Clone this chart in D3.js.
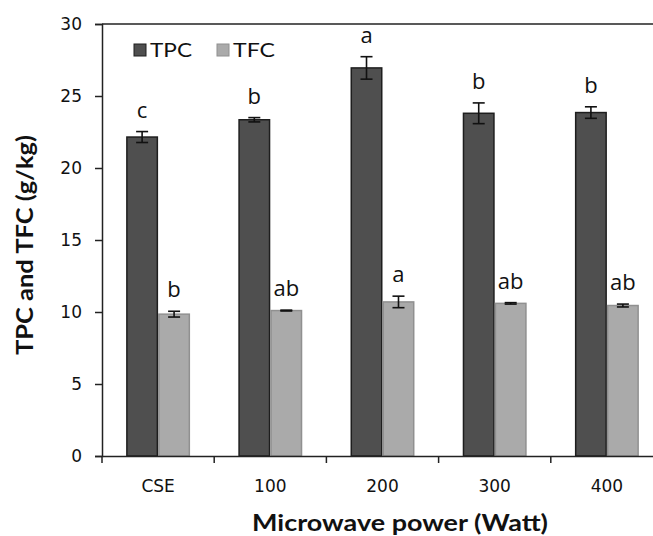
<!DOCTYPE html>
<html>
<head>
<meta charset="utf-8">
<script src="https://cdn.jsdelivr.net/npm/d3@7"></script>
<style>
  html, body { margin: 0; padding: 0; background: #fff; }
  svg { display: block; }
</style>
</head>
<body>
<svg id="chart" width="653" height="536"></svg>
<script>
const categories = ["CSE", "100", "200", "300", "400"];
const seriesNames = ["TPC", "TFC"];
const tpcValues = [22.15, 23.35, 26.95, 23.8, 23.85];
const tpcErrors = [0.38, 0.15, 0.78, 0.72, 0.4];
const tpcLetters = ["c", "b", "a", "b", "b"];
const tfcValues = [9.85, 10.1, 10.7, 10.6, 10.45];
const tfcErrors = [0.2, 0.03, 0.4, 0.05, 0.1];
const tfcLetters = ["b", "ab", "a", "ab", "ab"];
const yTicks = [0, 5, 10, 15, 20, 25, 30];

(function () {
const svg = d3.select("#chart");
const mLeft = 102, mRight = 663, mTop = 24, mBottom = 456;

const x0 = d3.scaleBand().domain(categories).range([mLeft, mRight])
  .paddingInner(0.43).paddingOuter(0.215);
const x1 = d3.scaleBand().domain(seriesNames).range([0, x0.bandwidth()]);
const y = d3.scaleLinear().domain([0, 30]).range([mBottom, mTop]);

const colors = { TPC: "#4f4f4f", TFC: "#aaaaaa" };
const strokes = { TPC: "#1e1e1e", TFC: "#909090" };

const data = [];
categories.forEach((c, i) => {
  data.push({ cat: c, s: "TPC", v: tpcValues[i], e: tpcErrors[i], l: tpcLetters[i] });
  data.push({ cat: c, s: "TFC", v: tfcValues[i], e: tfcErrors[i], l: tfcLetters[i] });
});

// top border
svg.append("line").attr("x1", mLeft).attr("x2", 653).attr("y1", mTop).attr("y2", mTop)
  .attr("stroke", "#222").attr("stroke-width", 1.5);

// bars
svg.append("g").selectAll("rect").data(data).join("rect")
  .attr("x", d => x0(d.cat) + x1(d.s) + 0.75)
  .attr("y", d => y(d.v))
  .attr("width", x1.bandwidth() - 1.5)
  .attr("height", d => y(0) - y(d.v))
  .attr("fill", d => colors[d.s])
  .attr("stroke", d => strokes[d.s])
  .attr("stroke-width", 1.5);

// error bars
const eb = svg.append("g").attr("stroke", "#111").attr("stroke-width", 1.6);
data.forEach(d => {
  const cx = x0(d.cat) + x1(d.s) + x1.bandwidth() / 2;
  eb.append("line").attr("x1", cx).attr("x2", cx).attr("y1", y(d.v + d.e)).attr("y2", y(d.v - d.e));
  eb.append("line").attr("x1", cx - 6).attr("x2", cx + 6).attr("y1", y(d.v + d.e)).attr("y2", y(d.v + d.e));
  eb.append("line").attr("x1", cx - 6).attr("x2", cx + 6).attr("y1", y(d.v - d.e)).attr("y2", y(d.v - d.e));
});

// letters
svg.append("g").selectAll("text").data(data).join("text")
  .attr("x", d => x0(d.cat) + x1(d.s) + x1.bandwidth() / 2)
  .attr("y", d => y(d.v + d.e) - 14)
  .attr("text-anchor", "middle")
  .attr("font-family", "'Open Sans', sans-serif")
  .attr("font-size", 22)
  .attr("font-weight", 500)
  .attr("fill", "#111")
  .text(d => d.l);

// y axis
const yAxis = d3.axisLeft(y).tickValues(yTicks).tickSize(7).tickPadding(13);
const gy = svg.append("g").attr("transform", `translate(${mLeft},0)`).call(yAxis);
gy.select(".domain").attr("stroke", "#222").attr("stroke-width", 1.5);
gy.selectAll(".tick line").attr("stroke", "#222").attr("stroke-width", 1.5);
gy.selectAll(".tick text").attr("font-family", "'DejaVu Sans', sans-serif").attr("font-size", 17).attr("fill", "#111");

// x axis
const xAxis = d3.axisBottom(x0).tickSize(0).tickPadding(24);
const gx = svg.append("g").attr("transform", `translate(0,${mBottom})`).call(xAxis);
gx.select(".domain").attr("stroke", "#222").attr("stroke-width", 1.5);
gx.selectAll(".tick text").attr("font-family", "'DejaVu Sans', sans-serif").attr("font-size", 17).attr("fill", "#111");
const bx = categories.map((c, i) => mLeft + i * x0.step());
gx.selectAll(".btick").data(bx).join("line").attr("class", "btick")
  .attr("x1", d => d).attr("x2", d => d).attr("y1", 0).attr("y2", 7)
  .attr("stroke", "#222").attr("stroke-width", 1.5);

// axis titles
svg.append("text")
  .attr("x", 400).attr("y", 531)
  .attr("text-anchor", "middle")
  .attr("font-family", "Lato, 'Open Sans', sans-serif")
  .attr("font-weight", "bold").attr("font-size", 22).attr("fill", "#111")
  .attr("textLength", 296).attr("lengthAdjust", "spacingAndGlyphs")
  .text("Microwave power (Watt)");

svg.append("text")
  .attr("transform", `translate(33,245) rotate(-90)`)
  .attr("text-anchor", "middle")
  .attr("font-family", "Lato, 'Open Sans', sans-serif")
  .attr("font-weight", "bold").attr("font-size", 22).attr("fill", "#111")
  .attr("textLength", 220).attr("lengthAdjust", "spacingAndGlyphs")
  .text("TPC and TFC (g/kg)");

// legend
const legend = svg.append("g");
const legendX = [134, 217];
seriesNames.forEach((s, i) => {
  legend.append("rect").attr("x", legendX[i]).attr("y", 44).attr("width", 12).attr("height", 12)
    .attr("fill", colors[s]).attr("stroke", strokes[s]).attr("stroke-width", 1);
  legend.append("text").attr("x", legendX[i] + 16).attr("y", 57)
    .attr("font-family", "Lato, 'Open Sans', sans-serif").attr("font-size", 19).attr("fill", "#111")
    .attr("textLength", 42).attr("lengthAdjust", "spacingAndGlyphs")
    .text(s);
});
})();
</script>
</body>
</html>
